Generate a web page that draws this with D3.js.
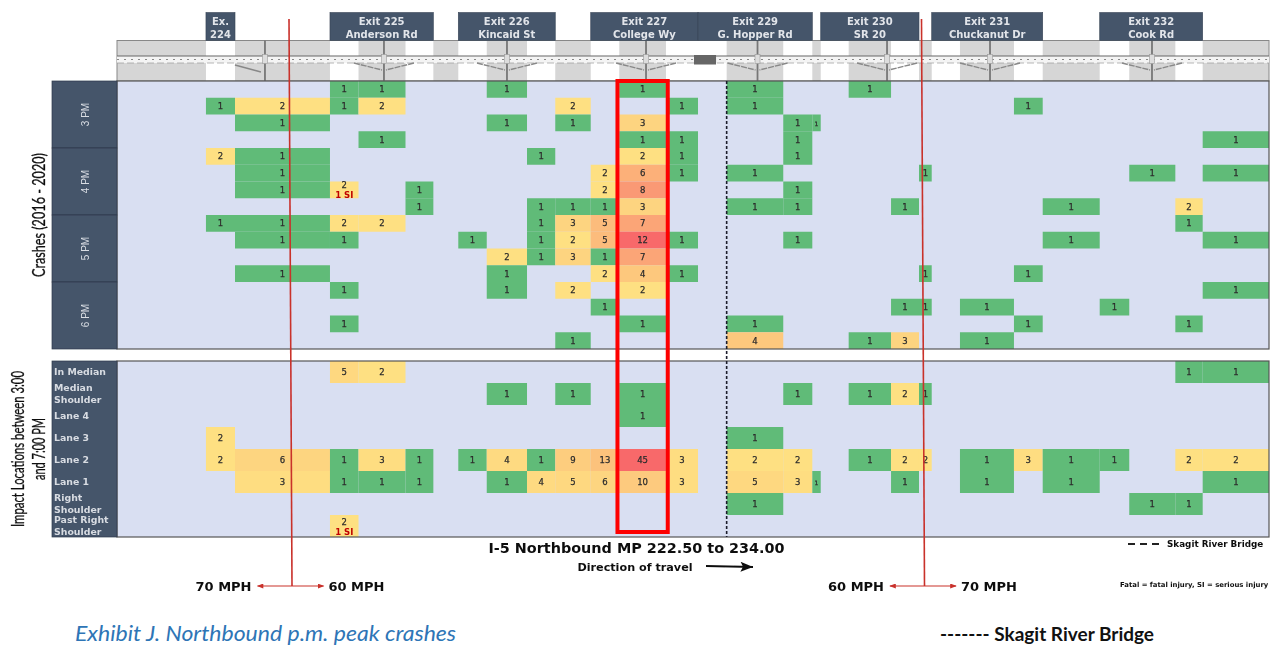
<!DOCTYPE html>
<html>
<head>
<meta charset="utf-8">
<script src="https://cdnjs.cloudflare.com/ajax/libs/d3/7.8.5/d3.min.js"></script>
<style>
html,body{margin:0;padding:0;background:#fff;overflow:hidden}
svg{display:block}
</style>
</head>
<body>
<svg id="chart" width="1276" height="646"></svg>
<script>
// Segment boundaries along I-5 (milepost)
const columnEdges = [222.5,223.388,223.678,224.626,224.911,225.38,225.658,225.907,226.191,226.593,226.875,227.229,227.514,227.98,228.3,228.586,229.151,229.441,229.525,229.804,230.227,230.506,230.633,230.915,231.454,231.741,232.31,232.605,233.065,233.338,234];
const whiteColumns = [1,3,5,7,9,11,13,14,16,18,20,22,24,26,28];

const exitLabels = [
  {line1:"Ex.",line2:"224",from:1,to:1},
  {line1:"Exit 225",line2:"Anderson Rd",from:3,to:5},
  {line1:"Exit 226",line2:"Kincaid St",from:7,to:9},
  {line1:"Exit 227",line2:"College Wy",from:11,to:13},
  {line1:"Exit 229",line2:"G. Hopper Rd",from:14,to:16},
  {line1:"Exit 230",line2:"SR 20",from:18,to:20},
  {line1:"Exit 231",line2:"Chuckanut Dr",from:22,to:24},
  {line1:"Exit 232",line2:"Cook Rd",from:26,to:28}
];
const crossroadMileposts = [223.977,225.165,226.393,227.781,228.894,230.187,231.215,232.832];
const rampedCrossroads = [225.165,226.393,227.781,228.894,230.187,231.215,232.832];
const bridgeBlock = [228.26,228.48];

const hourLabels = ["3 PM","4 PM","5 PM","6 PM"];
const quarterRows = d3.range(16);

// Sparse rows: {column: crashes}
const crashRows = [
  {3:1,4:1,8:1,12:1,15:1,19:1},
  {1:1,2:2,3:1,4:2,10:2,13:1,15:1,24:1},
  {2:1,8:1,10:1,12:3,16:1,17:1},
  {4:1,12:1,13:1,16:1,29:1},
  {1:2,2:1,9:1,12:2,13:1,16:1},
  {2:1,11:2,12:6,13:1,15:1,21:1,27:1,29:1},
  {2:1,3:2,5:1,11:2,12:8,16:1},
  {5:1,9:1,10:1,11:1,12:3,15:1,16:1,20:1,25:1,28:2},
  {1:1,2:1,3:2,4:2,9:1,10:3,11:5,12:7,28:1},
  {2:1,3:1,7:1,9:1,10:2,11:5,12:12,13:1,16:1,25:1,29:1},
  {8:2,9:1,10:3,11:1,12:7},
  {2:1,8:1,11:2,12:4,13:1,21:1,24:1},
  {3:1,8:1,10:2,12:2,29:1},
  {11:1,20:1,21:1,23:1,26:1},
  {3:1,12:1,15:1,24:1,28:1},
  {10:1,15:4,19:1,20:3,23:1}
];
const impactLabels = [["In Median"],["Median","Shoulder"],["Lane 4"],["Lane 3"],["Lane 2"],["Lane 1"],["Right","Shoulder"],["Past Right","Shoulder"]];
const impactRows = [
  {3:5,4:2,28:1,29:1},
  {8:1,10:1,12:1,16:1,19:1,20:2,21:1},
  {12:1},
  {1:2,15:1},
  {1:2,2:6,3:1,4:3,5:1,7:1,8:4,9:1,10:9,11:13,12:45,13:3,15:2,16:2,19:1,20:2,21:2,23:1,24:3,25:1,26:1,28:2,29:2},
  {2:3,3:1,4:1,5:1,8:1,9:4,10:5,11:6,12:10,13:3,15:5,16:3,17:1,20:1,23:1,25:1,29:1},
  {15:1,27:1,28:1},
  {3:2}
];
const seriousInjuries = [{panel:"time",row:6,col:3,label:"1 SI"},{panel:"impact",row:7,col:3,label:"1 SI"}];

const speedChanges = [
  {mp:224.232,left:"70 MPH",right:"60 MPH"},
  {mp:230.546,left:"60 MPH",right:"70 MPH"}
];
const bridgeMilepost = 228.586;
const highlightColumn = 12;

const svg = d3.select("#chart");
const defs = svg.append("defs");
defs.append("filter").attr("id","soft").attr("x","-2%").attr("y","-2%").attr("width","104%").attr("height","104%")
  .append("feGaussianBlur").attr("stdDeviation",0.45);

const navy = "#44546a", cellGreen = "#60bb78";
const sans = "'DejaVu Sans',Verdana,sans-serif", humanist = "Lato,'Open Sans',sans-serif";

const x = d3.scaleLinear().domain([222.5,234]).range([117,1269]);
const yTime = d3.scaleBand().domain(quarterRows).range([81,349]);
const yHour = d3.scaleBand().domain(hourLabels).range([81,349]);
const yImpact = d3.scaleBand().domain(d3.range(impactRows.length)).range([361,537]);

const timeMax = d3.max(crashRows.flatMap(r=>Object.values(r)));
const impactMax = d3.max(impactRows.flatMap(r=>Object.values(r)));
const warm = max => d3.scaleLinear().domain([2,max]).range(["#fee082","#f8696b"]);
const colorTime = warm(timeMax), colorImpact = warm(impactMax);

const cx0 = c=>x(columnEdges[c]), cx1 = c=>x(columnEdges[c+1]), cxm = c=>(cx0(c)+cx1(c))/2;
const root = svg.append("g").attr("filter","url(#soft)");

// ---------- road strip
const road = root.append("g");
road.append("rect").attr("x",x(222.5)).attr("y",40.5).attr("width",x(234)-x(222.5)).attr("height",40.5).attr("fill","#fff");
road.selectAll("rect.band").data(d3.range(columnEdges.length-1).filter(c=>!whiteColumns.includes(c))).join("rect")
  .attr("x",cx0).attr("width",c=>cx1(c)-cx0(c)).attr("y",40.5).attr("height",40.5)
  .attr("fill","#d6d6d6");
road.append("rect").attr("x",x(222.5)).attr("y",40.5).attr("width",x(234)-x(222.5)).attr("height",40.5).attr("fill","none").attr("stroke","#888");
road.selectAll("line.cross").data(crossroadMileposts).join("line")
  .attr("x1",d=>x(d)).attr("x2",d=>x(d)).attr("y1",40.5).attr("y2",81).attr("stroke","#777").attr("stroke-width",1.8);
road.append("rect").attr("x",x(222.5)).attr("width",x(234)-x(222.5)).attr("y",56).attr("height",7).attr("fill","#f4f4f4");
road.selectAll("line.edge").data([56,63]).join("line")
  .attr("x1",x(222.5)).attr("x2",x(234)).attr("y1",d=>d).attr("y2",d=>d).attr("stroke",d=>d<60?"#666":"#999").attr("stroke-width",d=>d<60?1.2:0.7)
  .attr("stroke-dasharray",d=>d<60?null:"7,3");
road.append("line").attr("x1",x(222.5)).attr("x2",x(234)).attr("y1",59.5).attr("y2",59.5)
  .attr("stroke","#888").attr("stroke-width",1).attr("stroke-dasharray","2,5");
road.selectAll("rect.node").data(crossroadMileposts).join("rect")
  .attr("x",d=>x(d)-2.5).attr("y",54.5).attr("width",5).attr("height",9).attr("fill","#ddd").attr("stroke","#999").attr("stroke-width",.6);
const rampLine = d3.line();
[-1,1].forEach(side=>{
  road.selectAll(null).data(rampedCrossroads).join("path")
    .attr("d",d=>rampLine([[x(d)+side*30,63],[x(d)+side*2,70]]))
    .attr("stroke","#888").attr("stroke-width",1.4).attr("fill","none").attr("stroke-dasharray","6,1");
});
road.selectAll(null).data([crossroadMileposts[0]]).join("path")
  .attr("d",d=>rampLine([[x(d)-30,65],[x(d)-4,72]])).attr("stroke","#888").attr("stroke-width",1.4).attr("fill","none");
road.append("rect").attr("x",x(bridgeBlock[0])).attr("width",x(bridgeBlock[1])-x(bridgeBlock[0])).attr("y",55).attr("height",9.5).attr("fill","#666");

// ---------- exit headers
const hdr = root.append("g").selectAll("g").data(exitLabels).join("g");
hdr.append("rect").attr("x",d=>cx0(d.from)).attr("width",d=>cx1(d.to)-cx0(d.from)).attr("y",12.5).attr("height",28)
  .attr("fill",navy).attr("stroke","#3a4656").attr("stroke-width",.6);
const hdrCx = d=>(cx0(d.from)+cx1(d.to))/2;
hdr.append("text").attr("x",hdrCx).attr("y",24.5).attr("text-anchor","middle").text(d=>d.line1);
hdr.append("text").attr("x",hdrCx).attr("y",37.5).attr("text-anchor","middle").text(d=>d.line2);
hdr.selectAll("text").attr("fill","#e2e5ea").attr("font-family",sans).attr("font-size",10).attr("font-weight",700);

// ---------- panels
function panel(rows, yScale, colorScale, name){
  const g = root.append("g");
  const [top,bottom] = yScale.range();
  g.append("rect").attr("x",117).attr("width",1152).attr("y",top).attr("height",bottom-top).attr("fill","#d9dff2");
  const cells = rows.flatMap((r,i)=>Object.entries(r).map(([c,v])=>({row:i,col:+c,v})));
  g.selectAll("rect.cell").data(cells).join("rect")
    .attr("x",d=>cx0(d.col)).attr("width",d=>cx1(d.col)-cx0(d.col))
    .attr("y",d=>yScale(d.row)).attr("height",yScale.bandwidth())
    .attr("fill",d=>d.v===1?cellGreen:colorScale(d.v));
  const si = seriousInjuries.filter(s=>s.panel===name);
  const hasSI = d=>si.some(s=>s.row===d.row&&s.col===d.col);
  g.selectAll("text.val").data(cells).join("text")
    .attr("x",d=>cxm(d.col))
    .attr("y",d=>yScale(d.row)+yScale.bandwidth()/2+(hasSI(d)?-1.5:3))
    .attr("text-anchor","middle").attr("font-family",sans).attr("font-size",d=>cx1(d.col)-cx0(d.col)<10?6:8.5)
    .attr("fill","#2c2c2c").attr("stroke","#2c2c2c").attr("stroke-width",.25).text(d=>d.v);
  g.selectAll("text.si").data(si).join("text")
    .attr("x",d=>cxm(d.col)).attr("y",d=>yScale(d.row)+yScale.bandwidth()/2+(name==="time"?8:9))
    .attr("text-anchor","middle").attr("font-family",sans).attr("font-size",8.5).attr("font-weight",700)
    .attr("fill","#c00000").text(d=>d.label);
  g.append("rect").attr("x",117).attr("y",top).attr("width",1152).attr("height",bottom-top).attr("fill","none").attr("stroke","#555").attr("stroke-width",1.2);
  return g;
}
panel(crashRows,yTime,colorTime,"time");
panel(impactRows,yImpact,colorImpact,"impact");

// ---------- left headers
const leftG = root.append("g");
leftG.selectAll("rect.hour").data(hourLabels).join("rect")
  .attr("x",52).attr("width",65).attr("y",d=>yHour(d)).attr("height",yHour.bandwidth())
  .attr("fill",navy).attr("stroke","#2f3a4a").attr("stroke-width",.7);
leftG.selectAll("text.hour").data(hourLabels).join("text")
  .attr("transform",d=>`translate(88.5,${yHour(d)+yHour.bandwidth()/2}) rotate(-90)`)
  .attr("text-anchor","middle").attr("font-family","'Liberation Sans Narrow','Liberation Sans',sans-serif")
  .attr("font-size",10).attr("fill","#d9dde3").text(d=>d);
leftG.append("rect").attr("x",52).attr("y",361).attr("width",65).attr("height",176).attr("fill",navy).attr("stroke","#2f3a4a").attr("stroke-width",.7);
const impG = leftG.selectAll("g.imp").data(impactLabels).join("g");
impG.selectAll("text").data((d,i)=>d.map((t,j)=>({t,j,i,n:d.length}))).join("text")
  .attr("x",54)
  .attr("y",d=>yImpact(d.i)+yImpact.bandwidth()/2+3+(d.n===2?(d.j?5.8:-5.8):0))
  .attr("font-family",sans).attr("font-size",9.4).attr("font-weight",700).attr("fill","#d8dce2").text(d=>d.t);

// ---------- side titles
const sideTitle=(tx,ty,t,len)=>root.append("text").attr("transform",`translate(${tx},${ty}) rotate(-90)`)
  .attr("text-anchor","middle").attr("font-family",humanist).attr("font-size",17).attr("fill","#111")
  .attr("stroke","#111").attr("stroke-width",.3)
  .attr("textLength",len).attr("lengthAdjust","spacingAndGlyphs").text(t);
sideTitle(45,215,"Crashes (2016 - 2020)",124);
sideTitle(24,449,"Impact Locations between 3:00",156);
sideTitle(44.5,449,"and 7:00 PM",62);

// ---------- bridge line, highlight box
root.append("line").attr("x1",x(bridgeMilepost)).attr("x2",x(bridgeMilepost)).attr("y1",81).attr("y2",537)
  .attr("stroke","#1a1a2a").attr("stroke-width",1.6).attr("stroke-dasharray","3,2");
root.append("rect").attr("x",cx0(highlightColumn)-1.8).attr("y",81)
  .attr("width",cx1(highlightColumn)-cx0(highlightColumn)+3.6).attr("height",451)
  .attr("fill","none").attr("stroke","#fe0000").attr("stroke-width",4);

// ---------- speed lines
const red="#c9302c";
const arrow=defs.append("marker").attr("id","ah").attr("viewBox","0 0 8 6").attr("refX",7).attr("refY",3)
  .attr("markerWidth",7).attr("markerHeight",5).attr("markerUnits","userSpaceOnUse").attr("orient","auto-start-reverse");
arrow.append("path").attr("d","M0,0L8,3L0,6Z").attr("fill",red);
const sp=root.append("g").selectAll("g").data(speedChanges).join("g");
sp.append("line").attr("x1",d=>x(d.mp)-1.5).attr("x2",d=>x(d.mp)+1.5).attr("y1",19).attr("y2",586).attr("stroke",red).attr("stroke-width",1.6);
sp.append("line").attr("x1",d=>x(d.mp)-33).attr("x2",d=>x(d.mp)+33).attr("y1",586).attr("y2",586)
  .attr("stroke",red).attr("stroke-width",1.2).attr("marker-start","url(#ah)").attr("marker-end","url(#ah)");
sp.append("text").attr("x",d=>x(d.mp)-39).attr("y",591).attr("text-anchor","end").text(d=>d.left);
sp.append("text").attr("x",d=>x(d.mp)+38).attr("y",591).text(d=>d.right);
sp.selectAll("text").attr("font-family",sans).attr("font-size",13).attr("font-weight",700).attr("fill","#111");

// ---------- footer notes
const note=(tx,ty,t,fs,anchor)=>root.append("text").attr("x",tx).attr("y",ty).attr("text-anchor",anchor||"middle")
  .attr("font-family",sans).attr("font-size",fs).attr("font-weight",700).attr("fill","#111").text(t);
note(636.5,553,"I-5 Northbound MP 222.50 to 234.00",14.4);
note(635,571,"Direction of travel",11.2);
defs.append("marker").attr("id","ak").attr("viewBox","0 0 10 8").attr("refX",10).attr("refY",4)
  .attr("markerWidth",13).attr("markerHeight",10).attr("markerUnits","userSpaceOnUse").attr("orient","auto")
  .append("path").attr("d","M0,0L10,4L0,8L2,4Z").attr("fill","#111");
root.append("line").attr("x1",706).attr("x2",753).attr("y1",566).attr("y2",567).attr("stroke","#111").attr("stroke-width",2).attr("marker-end","url(#ak)");
root.append("line").attr("x1",1128).attr("x2",1160).attr("y1",544).attr("y2",544).attr("stroke","#222").attr("stroke-width",2).attr("stroke-dasharray","7,5");
note(1167,547,"Skagit River Bridge",8.8,"start");
note(1120,587,"Fatal = fatal injury, SI = serious injury",6.9,"start");

// ---------- caption
svg.append("text").attr("x",75).attr("y",641).attr("font-family",humanist).attr("font-style","italic").attr("font-weight",400)
  .attr("font-size",22).attr("fill","#2e75b6").attr("textLength",381).attr("lengthAdjust","spacingAndGlyphs")
  .text("Exhibit J. Northbound p.m. peak crashes");
svg.append("text").attr("x",940).attr("y",641).attr("font-family",humanist).attr("font-weight",700)
  .attr("font-size",19.5).attr("fill","#111").attr("textLength",214).attr("lengthAdjust","spacingAndGlyphs")
  .text("------- Skagit River Bridge");
</script>
</body>
</html>
